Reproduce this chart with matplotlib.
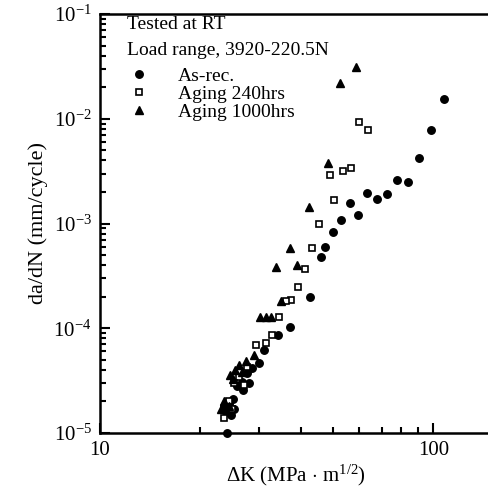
import matplotlib
matplotlib.use("Agg")
import matplotlib.pyplot as plt
from matplotlib.ticker import LogLocator, NullFormatter, FixedLocator, FixedFormatter

plt.rcParams['font.family'] = ['Liberation Serif', 'DejaVu Serif']
plt.rcParams['mathtext.fontset'] = 'custom'
plt.rcParams['mathtext.rm'] = 'Liberation Serif'
plt.rcParams['mathtext.it'] = 'Liberation Serif:italic'

# As-received
as_rec_dk = [107.4, 98.6, 90.3, 83.9, 77.9, 72.5, 67.7, 63.3, 59.3, 56.1, 52.8, 49.9,
             47.4, 46.0, 42.7, 37.1, 34.1, 31.0, 30.0, 28.6, 27.6, 26.6, 27.9, 25.7,
             26.8, 25.0, 24.3, 25.2, 23.6, 24.8, 23.8, 24.1]
as_rec_dadn = [1.54e-2, 7.81e-3, 4.25e-3, 2.47e-3, 2.60e-3, 1.90e-3, 1.71e-3, 1.97e-3,
               1.21e-3, 1.56e-3, 1.07e-3, 8.24e-4, 6.03e-4, 4.84e-4, 2.00e-4, 1.02e-4,
               8.62e-5, 6.20e-5, 4.66e-5, 4.2e-5, 3.7e-5, 3.1e-5, 3.0e-5, 2.8e-5,
               2.6e-5, 2.1e-5, 1.9e-5, 1.7e-5, 1.8e-5, 1.5e-5, 1.6e-5, 1.0e-5]

# Aging 240 hrs
ag240_dk = [60.0, 63.8, 56.6, 53.5, 48.9, 50.4, 45.4, 43.2, 41.2, 39.3, 37.3, 36.1,
            34.4, 32.7, 31.5, 29.3, 27.6, 26.2, 25.3, 27.0, 24.3, 23.5, 24.9]
ag240_dadn = [9.31e-3, 7.81e-3, 3.37e-3, 3.17e-3, 2.90e-3, 1.68e-3, 9.83e-4, 5.80e-4,
              3.64e-4, 2.49e-4, 1.88e-4, 1.84e-4, 1.27e-4, 8.62e-5, 7.2e-5, 6.92e-5,
              4.3e-5, 3.4e-5, 3.0e-5, 2.9e-5, 2.0e-5, 1.4e-5, 1.7e-5]

# Aging 1000 hrs
ag1000_dk = [58.6, 52.5, 48.4, 42.4, 37.1, 38.9, 33.7, 35.0, 30.3, 31.4, 32.5, 29.0,
             27.5, 26.1, 25.4, 24.6, 26.6, 25.0, 23.6, 24.4, 23.1]
ag1000_dadn = [3.14e-2, 2.18e-2, 3.80e-3, 1.43e-3, 5.87e-4, 4.06e-4, 3.84e-4, 1.84e-4,
               1.27e-4, 1.27e-4, 1.27e-4, 5.55e-5, 4.9e-5, 4.5e-5, 4.0e-5, 3.6e-5,
               3.8e-5, 3.3e-5, 2.0e-5, 1.8e-5, 1.7e-5]

fig = plt.figure(figsize=(4.89, 4.92), dpi=100)
ax = fig.add_axes([100 / 489, 1 - 433 / 492, 392 / 489, 419 / 492])

ax.plot(as_rec_dk, as_rec_dadn, 'o', color='black', ms=5.4, clip_on=False, label='As-rec.')
ax.plot(ag240_dk, ag240_dadn, 's', mfc='white', mec='black', mew=1.2, ms=5.0,
        label='Aging 240hrs')
ax.plot(ag1000_dk, ag1000_dadn, '^', color='black', ms=6.0, label='Aging 1000hrs')

ax.set_xscale('log')
ax.set_yscale('log')
ax.set_xlim(10, 150)
ax.set_ylim(1e-5, 1e-1)

for s in ['left', 'bottom', 'top']:
    ax.spines[s].set_linewidth(1.8)
ax.spines['right'].set_visible(False)

ax.xaxis.set_major_locator(FixedLocator([10, 100]))
ax.xaxis.set_major_formatter(FixedFormatter(['10', '100']))
ax.xaxis.set_minor_locator(LogLocator(base=10, subs=range(2, 10)))
ax.xaxis.set_minor_formatter(NullFormatter())
ax.yaxis.set_major_locator(LogLocator(base=10, numticks=10))
ax.yaxis.set_minor_locator(LogLocator(base=10, subs=range(2, 10), numticks=10))
ax.yaxis.set_minor_formatter(NullFormatter())

ax.tick_params(which='both', direction='in', top=False, right=False, width=1.5,
               labelsize=15)
ax.tick_params(which='major', length=7, pad=6)
ax.tick_params(which='minor', length=4.5)

ax.set_xlabel('ΔK (MPa $\\cdot$ m$^{1/2}$)', fontsize=15, labelpad=2)
ax.set_ylabel('da/dN (mm/cycle)', fontsize=16, labelpad=4)

ax.text(0.07, 0.975, 'Tested at RT', transform=ax.transAxes, fontsize=14,
        va='center', ha='left')
ax.text(0.07, 0.912, 'Load range, 3920-220.5N', transform=ax.transAxes, fontsize=14,
        va='center', ha='left')
ax.legend(loc='upper left', bbox_to_anchor=(0.075, 0.873), frameon=False, fontsize=14,
          handlelength=1.0, handletextpad=1.5, labelspacing=0.03, borderpad=0,
          borderaxespad=0)

fig.savefig('out.png', dpi=100)
